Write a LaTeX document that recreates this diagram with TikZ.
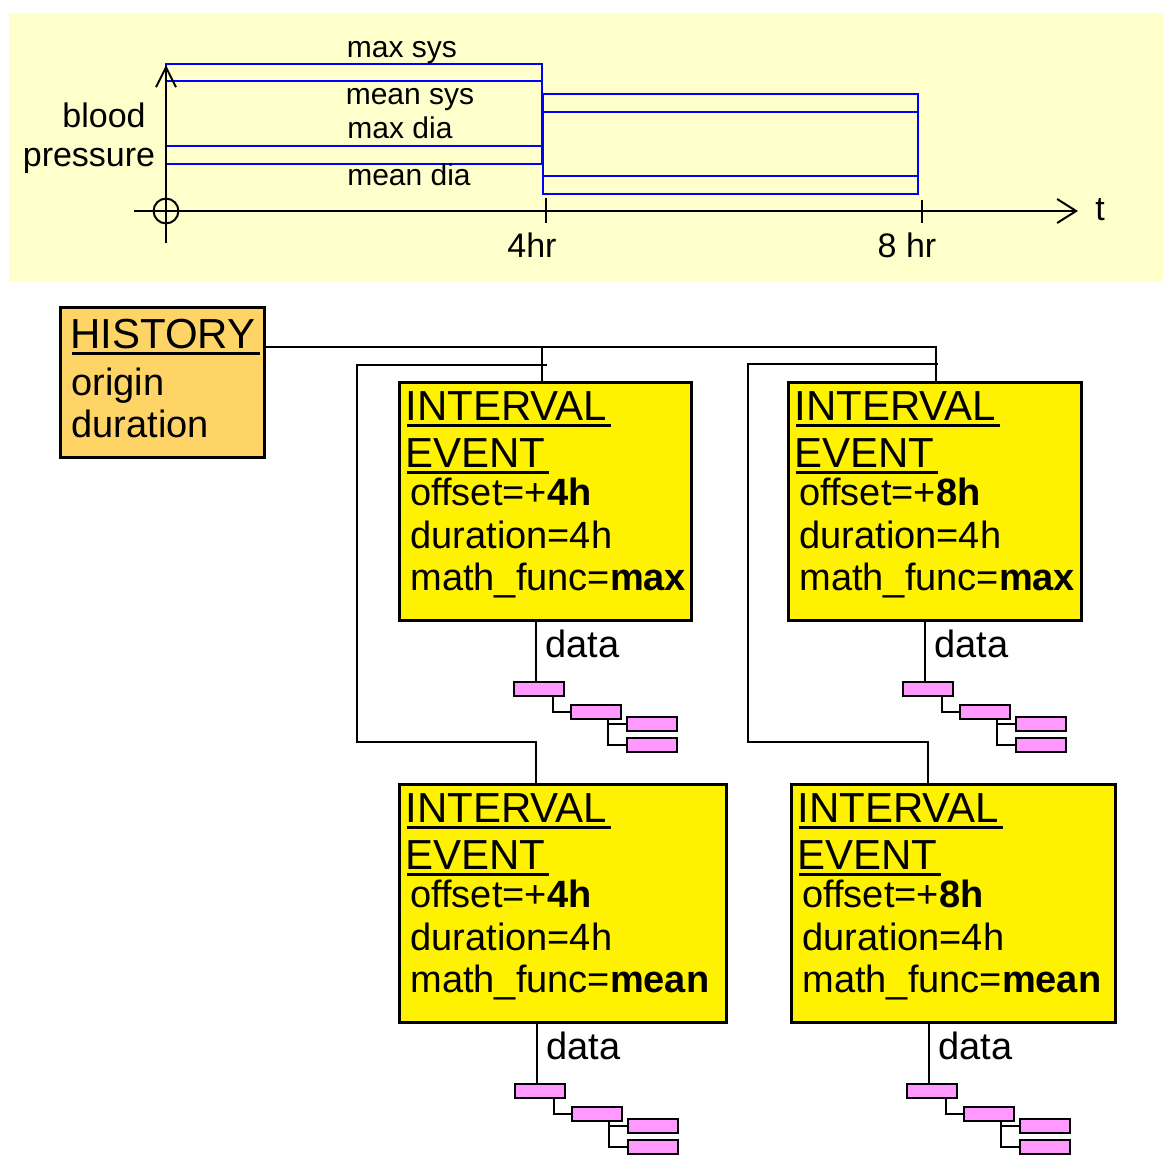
\documentclass[tikz,border=0pt]{standalone}
\usepackage{fontspec}
\setmainfont{Liberation Sans}
\usetikzlibrary{arrows.meta}
\definecolor{paneback}{RGB}{255,255,204}
\definecolor{histfill}{RGB}{255,212,102}
\definecolor{datafill}{RGB}{255,153,255}
\definecolor{bpblue}{RGB}{0,0,255}
\newcommand{\ulword}[1]{\setbox0=\hbox{#1}\rlap{\hspace{1pt}\rule[-3.5pt]{\dimexpr\wd0+1pt\relax}{1.7pt}}\box0}

\begin{document}
\begin{tikzpicture}[x=0.5pt,y=-0.5pt,
        bp/.style={bpblue, line width=1.1pt},
        axis/.style={black, line width=1pt},
        link/.style={black, line width=1pt},
        ivbox/.style={draw, line width=1.3pt, fill=yellow, anchor=north west, minimum height=119pt, inner sep=0pt},
        histbox/.style={draw, line width=1.3pt, fill=histfill, anchor=north west, minimum width=102pt, minimum height=75pt, inner sep=0pt},
        head/.style={anchor=base west, inner sep=0pt, font=\fontsize{21}{24}\selectfont},
        body/.style={anchor=base west, inner sep=0pt, font=\fontsize{19}{22}\selectfont},
        small/.style={anchor=base, inner sep=0pt, font=\fontsize{15}{18}\selectfont},
        lab/.style={anchor=base, inner sep=0pt, font=\fontsize{17}{20}\selectfont},
        datbox/.style={draw, line width=1.3pt, fill=datafill, minimum width=25pt, minimum height=7pt, inner sep=0pt}]
        
        \useasboundingbox (0,0) rectangle (1175,1169);
        
        % blood pressure chart
        \fill[paneback] (9,13) rectangle (1163,281);
        
        \draw[bp] (166,64) rectangle (542,164);
        \draw[bp] (166,81) -- (542,81) (166,146) -- (542,146);
        \draw[bp] (543,94) rectangle (918,194);
        \draw[bp] (543,112) -- (918,112) (543,176) -- (918,176);
        
        \draw[axis, -{Straight Barb[length=9.5pt,width=12pt]}] (134,211) -- (1078,211);
        \draw[axis, -{Straight Barb[length=10pt,width=10pt]}] (166,243) -- (166,65);
        \draw[axis] (166,211) circle (6.2pt);
        \draw[axis] (546,198) -- (546,223);
        \draw[axis] (922,200) -- (922,223);
        
        \node[small] (maxsys) at (402,57) {max sys};
        \node[small] (meansys) at (410,104) {mean sys};
        \node[small] (maxdia) at (400,138) {max dia};
        \node[small] (meandia) at (409,185) {mean dia};
        \node[lab] (blood) at (104,127) {blood};
        \node[lab] (pressure) at (89,166) {pressure};
        \node[lab] (fourhr) at (532,257) {4hr};
        \node[lab] (eighthr) at (907,257) {8 hr};
        \node[lab] (tlab) at (1100,220) {t};
        
        % history
        \node[histbox] (hist) at (59,306) {};
        \node[head] (histhead) at ([shift={(11,42)}]hist.north west) {\ulword{HISTORY}};
        \node[body] (origin) at ([shift={(12,89)}]hist.north west) {origin};
        \node[body] (histdur) at ([shift={(12,131)}]hist.north west) {duration};
        
        % interval events with their data
        \foreach \nm/\bx/\by/\bw/\dx/\off/\fn in {A/398/381/292/536/4/max, B/787/381/293/925/8/max, C/398/783/327/537/4/mean, D/790/783/324/929/8/mean}{
            \node[ivbox, minimum width=\bw*0.5pt] (iv\nm) at (\bx,\by) {};
            \node[head] (iv\nm-1) at ([shift={(7,39)}]iv\nm.north west) {\ulword{INTERVAL}};
            \node[head] (iv\nm-2) at ([shift={(7,86)}]iv\nm.north west) {\ulword{EVENT}};
            \node[body] (iv\nm-3) at ([shift={(12,124)}]iv\nm.north west) {offset=+\textbf{\off h}};
            \node[body] (iv\nm-4) at ([shift={(12,167)}]iv\nm.north west) {duration=4h};
            \node[body] (iv\nm-5) at ([shift={(12,209)}]iv\nm.north west) {math\_func=\textbf{\fn}};
            
            \coordinate (ft\nm) at (\dx,\by+238);
            \node[body] (data\nm) at ([shift={(9,38)}]ft\nm) {data};
            \node[datbox] (d\nm1) at ([shift={(3,70)}]ft\nm) {};
            \node[datbox] (d\nm2) at ([shift={(60,93)}]ft\nm) {};
            \node[datbox] (d\nm3) at ([shift={(116,105)}]ft\nm) {};
            \node[datbox] (d\nm4) at ([shift={(116,126)}]ft\nm) {};
            \draw[link] (ft\nm) -- (d\nm1.north -| ft\nm);
            \draw[link] ([xshift=7pt]d\nm1.south) |- (d\nm2.west);
            \draw[link] ([xshift=6pt]d\nm2.south) |- (d\nm3.west);
            \draw[link] ([xshift=6pt]d\nm2.south) |- (d\nm4.west);
        }
        
        \draw[link] (hist.east |- 0,347) -| (ivB.north -| 936,0);
        \draw[link] (542,347) -- (ivA.north -| 542,0);
        \draw[link] (547,365) -| (357,742) -| (ivC.north -| 536,0);
        \draw[link] (938,364) -| (748,742) -| (ivD.north -| 928,0);
        
        \end{tikzpicture}
\end{document}
